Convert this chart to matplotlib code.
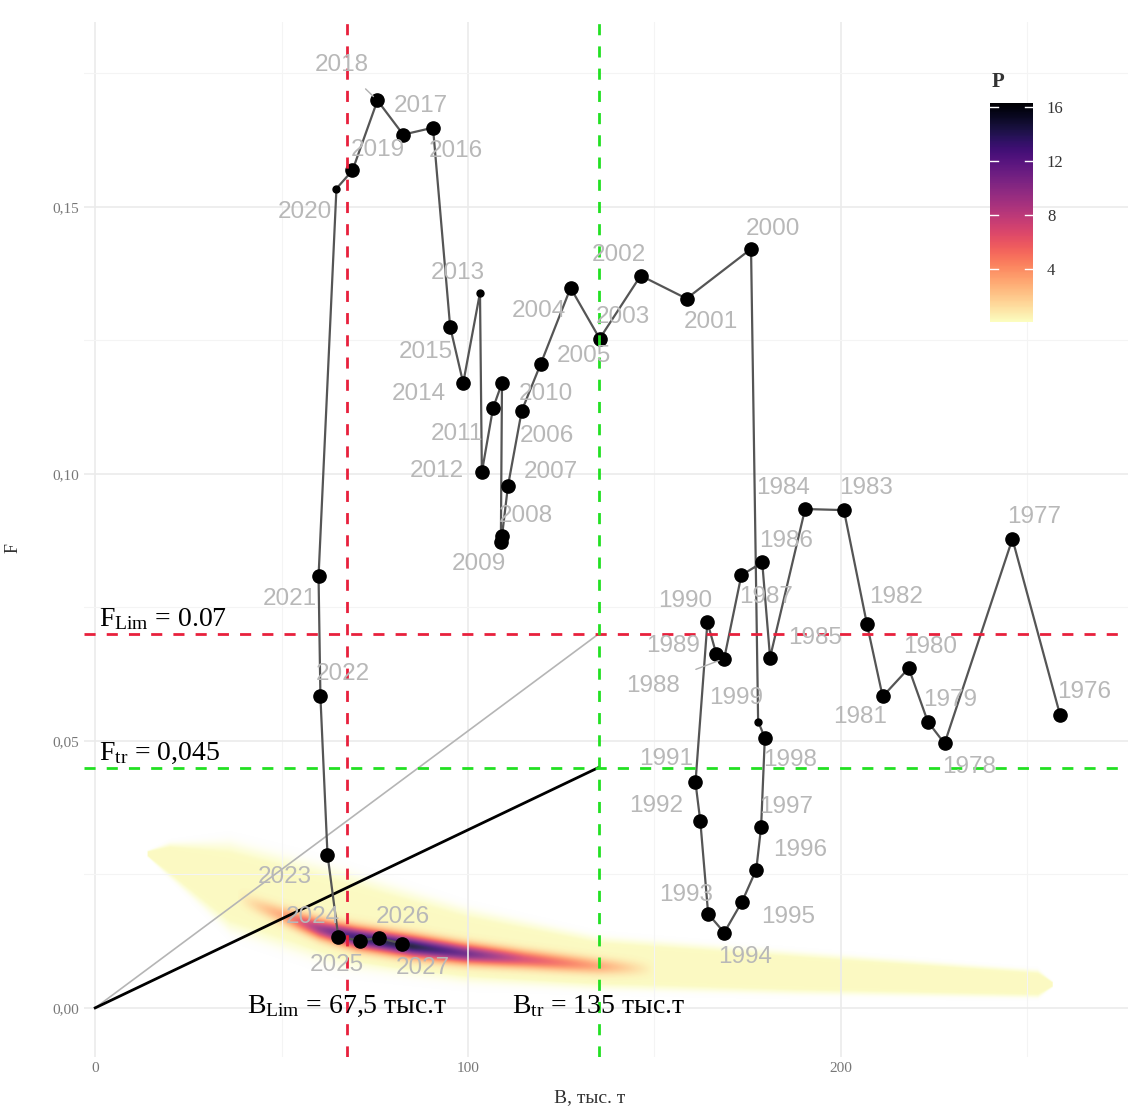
import matplotlib
matplotlib.use("Agg")
import matplotlib.pyplot as plt
import numpy as np
from matplotlib.colors import Normalize
from matplotlib.cm import ScalarMappable

plt.rcParams.update({
    "font.family": ["Liberation Serif", "DejaVu Serif"],
    "mathtext.fontset": "custom",
    "mathtext.rm": "Liberation Serif",
    "mathtext.it": "Liberation Serif:italic",
})

# ── Stock trajectory (B, thous. t ; F) ───────────────────────────────────────
years = list(range(1976, 2028))
B = [258.8, 246.0, 227.8, 223.3, 218.2, 211.2, 207.0, 200.8, 190.4, 181.0,
     178.9, 173.3, 168.7, 166.6, 164.2, 161.0, 162.3, 164.4, 168.7, 173.5,
     177.3, 178.6, 179.6, 177.8, 175.9, 158.6, 146.3, 135.3, 127.5, 119.5,
     114.4, 110.7, 109.1, 108.8, 109.1, 106.7, 103.7, 103.2, 98.7, 95.2,
     90.6, 82.6, 75.7, 69.0, 64.7, 59.9, 60.4, 62.3, 65.2, 70.9,
     76.2, 82.4]
F = [0.0548, 0.0878, 0.0495, 0.0536, 0.0636, 0.0583, 0.0718, 0.0932, 0.0934, 0.0656,
     0.0834, 0.0810, 0.0654, 0.0662, 0.0722, 0.0422, 0.0349, 0.0176, 0.0141, 0.0199,
     0.0259, 0.0339, 0.0506, 0.0536, 0.1421, 0.1328, 0.1371, 0.1253, 0.1348, 0.1206,
     0.1118, 0.0977, 0.0883, 0.0872, 0.1170, 0.1123, 0.1003, 0.1339, 0.1170, 0.1275,
     0.1648, 0.1635, 0.1699, 0.1568, 0.1534, 0.0808, 0.0583, 0.0287, 0.0133, 0.0126,
     0.0131, 0.0120]
small_pts = [1999, 2013, 2020]

# reference points
B_LIM, B_TR = 67.5, 135.0
F_LIM, F_TR = 0.07, 0.045

# projection density ridge
band_x = [14, 20, 36, 65, 100, 135, 188, 253, 257]
band_y = [0.0287, 0.0275, 0.0226, 0.0167, 0.0115, 0.0083, 0.0064, 0.0044, 0.0043]
band_hw = [0.0005, 0.0030, 0.0078, 0.0085, 0.0065, 0.0046, 0.0037, 0.0024, 0.0004]
core_x = [38, 50, 60, 70, 85, 100, 115, 135, 150]
core_y = [0.0205, 0.0172, 0.0147, 0.0130, 0.0114, 0.0100, 0.0090, 0.0077, 0.0071]
core_p = [0.0, 3.0, 9.0, 13.5, 14.5, 11.0, 6.5, 3.0, 0.0]
core_w = [0.0010, 0.0011, 0.0012, 0.0013, 0.0013, 0.0012, 0.0011, 0.0010, 0.0009]

# label offsets in pixels (dx, dy down)
label_off = {
    1976: (24, -23), 1977: (22, -22), 1978: (25, 24), 1979: (22, -22), 1980: (21, -21),
    1981: (-23, 21), 1982: (29, -27), 1983: (22, -22), 1984: (-22, -21), 1985: (45, -20),
    1986: (24, -21), 1987: (25, 22), 1988: (-71, 27), 1989: (-43, -8), 1990: (-22, -21),
    1991: (-29, -23), 1992: (-44, -15), 1993: (-22, -19), 1994: (21, 24), 1995: (46, 15),
    1996: (44, -20), 1997: (25, -20), 1998: (25, 22), 1999: (-22, -24), 2000: (22, -20),
    2001: (24, 23), 2002: (-22, -21), 2003: (23, -22), 2004: (-32, 23), 2005: (43, -8),
    2006: (25, 25), 2007: (43, -14), 2008: (24, -20), 2009: (-22, 22), 2010: (44, 11),
    2011: (-36, 26), 2012: (-45, -1), 2013: (-22, -20), 2014: (-44, 11), 2015: (-24, 25),
    2016: (23, 23), 2017: (18, -29), 2018: (-36, -35), 2019: (25, -20), 2020: (-32, 23),
    2021: (-29, 23), 2022: (22, -22), 2023: (-43, 22), 2024: (-25, -20), 2025: (-23, 24),
    2026: (23, -21), 2027: (20, 24),
}
leader = [1988, 2018]

RED = "#e8203c"
GREEN = "#22e022"

fig = plt.figure(figsize=(11.34, 11.13), dpi=100)
ax = fig.add_axes([0.0741, 0.0503, 0.9206, 0.930])
ax.set_xlim(-3, 277)
ax.set_ylim(-0.0092, 0.1846)

# ── density of projections ───────────────────────────────────────────────────
gx = np.linspace(0, 270, 900)
gy = np.linspace(-0.004, 0.04, 500)
X, Y = np.meshgrid(gx, gy)
by = np.interp(gx, band_x, band_y)
bw = np.interp(gx, band_x, band_hw, left=0, right=0)
inside = (gx >= band_x[0]) & (gx <= band_x[-1])
bw = np.where(inside, np.maximum(bw, 1e-5), 1e-5)
plateau = 0.25 * np.exp(-((Y - by) / bw) ** 6) * inside
cy = np.interp(gx, core_x, core_y)
cp = np.interp(gx, core_x, core_p, left=0, right=0)
cw = np.interp(gx, core_x, core_w)
core = cp * np.exp(-0.5 * ((Y - cy) / cw) ** 2)
P = plateau + core
cmap = plt.get_cmap("magma_r")
norm = Normalize(vmin=0.1, vmax=16.3)
rgba = cmap(norm(P))
rgba[..., 3] = np.clip(P / 0.2, 0, 1) * 0.9
ax.imshow(rgba, origin="lower", extent=[gx[0], gx[-1], gy[0], gy[-1]],
          aspect="auto", interpolation="bilinear", zorder=1)

# ── grid ─────────────────────────────────────────────────────────────────────
ax.set_xticks([0, 100, 200])
ax.set_xticklabels(["0", "100", "200"])
ax.set_xticks([50, 150, 250], minor=True)
ax.set_yticks([0, 0.05, 0.10, 0.15])
ax.set_yticklabels(["0,00", "0,05", "0,10", "0,15"])
ax.set_yticks([0.025, 0.075, 0.125, 0.175], minor=True)
ax.grid(which="major", color="#ebebeb", lw=1.2, zorder=0)
ax.grid(which="minor", color="#f4f4f4", lw=0.8, zorder=0)
ax.tick_params(which="both", length=0, labelsize=11, labelcolor="#777777")
for s in ax.spines.values():
    s.set_visible(False)

# ── reference lines ──────────────────────────────────────────────────────────
ax.plot([0, B_TR], [0, F_LIM], color="#b5b5b5", lw=1.2, zorder=2)
ax.plot([0, B_TR], [0, F_TR], color="black", lw=2.0, zorder=2)

# ── trajectory ───────────────────────────────────────────────────────────────
ax.plot(B, F, color="#555555", lw=1.6, zorder=3)
sizes = [5 if y in small_pts else 9.5 for y in years]
for b, f, s in zip(B, F, sizes):
    ax.plot(b, f, "o", color="black", ms=s, zorder=4)

dash = (0, (4, 4))
ax.axvline(B_LIM, color=RED, lw=2, ls=dash, zorder=5)
ax.axhline(F_LIM, color=RED, lw=2, ls=dash, zorder=5)
ax.axvline(B_TR, color=GREEN, lw=2, ls=dash, zorder=5)
ax.axhline(F_TR, color=GREEN, lw=2, ls=dash, zorder=5)

for yr, b, f in zip(years, B, F):
    dx, dy = label_off[yr]
    ap = dict(arrowstyle="-", color="#b0b0b0", lw=1, shrinkA=10, shrinkB=4) if yr in leader else None
    ax.annotate(str(yr), (b, f), xytext=(dx * 0.72, -dy * 0.72), textcoords="offset points",
                ha="center", va="center", fontsize=17.5, color="#b8b8b8",
                family=["Liberation Sans", "DejaVu Sans"], arrowprops=ap, zorder=6)

txt = dict(fontsize=20, color="black", zorder=7)
ax.text(1, F_LIM + 0.0003, r"F$_{\mathrm{Lim}}$ = 0.07", ha="left", va="bottom", **txt)
ax.text(1, F_TR + 0.0003, r"F$_{\mathrm{tr}}$ = 0,045", ha="left", va="bottom", **txt)
ax.text(B_LIM, 0.0003, r"B$_{\mathrm{Lim}}$ = 67,5 тыс.т", ha="center", va="center", **txt)
ax.text(B_TR, 0.0003, r"B$_{\mathrm{tr}}$ = 135 тыс.т", ha="center", va="center", **txt)

fig.text(590 / 1134, 0.006, "B, тыс. т", fontsize=14, color="#333333",
         ha="center", va="bottom")
fig.text(13 / 1134, 1 - 548 / 1113, "F", fontsize=13, color="#333333",
         rotation=90, ha="center", va="center")

# ── colour bar ───────────────────────────────────────────────────────────────
cax = fig.add_axes([990 / 1134, 1 - 322 / 1113, 43 / 1134, 219 / 1113])
cb = fig.colorbar(ScalarMappable(norm=norm, cmap=cmap), cax=cax, ticks=[4, 8, 12, 16])
cb.outline.set_visible(False)
cax.tick_params(length=0, labelsize=12, labelcolor="#333333", pad=10)
for t in [4, 8, 12, 16]:
    cax.plot([0, 0.18], [t, t], color="white", lw=1, transform=cax.get_yaxis_transform())
    cax.plot([0.82, 1], [t, t], color="white", lw=1, transform=cax.get_yaxis_transform())
fig.text(998 / 1134, 1 - 82 / 1113, "P", fontsize=15, fontweight="bold", color="#333333",
         ha="center", va="center")

fig.savefig("out.png", dpi=100)
